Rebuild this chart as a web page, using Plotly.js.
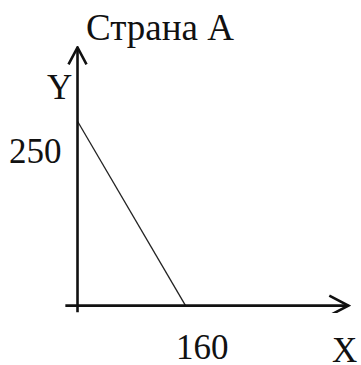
<!DOCTYPE html>
<html>
<head>
<meta charset="utf-8">
<script src="https://cdn.plot.ly/plotly-3.0.1.min.js"></script>
<style>html,body{margin:0;padding:0;background:#fff;}#chart{width:361px;height:365px;}</style>
</head>
<body>
<div id="chart"></div>
<script>
// Data
const chartTitle = "Страна А";
const xAxisName = "X";
const yAxisName = "Y";
const xValues = [0, 160];
const yValues = [250, 0];

const FONT = {family: "Liberation Serif, Times New Roman, serif", size: 35, color: "#111"};
const TITLE_FONT = {family: "Liberation Serif, Times New Roman, serif", size: 37, color: "#111"};
const xRange = [-20, 405];
const yRange = [-10, 352];

const trace = {
  x: xValues, y: yValues, type: "scatter", mode: "lines",
  line: {color: "#222", width: 1.3}, hoverinfo: "skip", showlegend: false
};

const axisStyle = {color: "#111", width: 2.6};
const shapes = [
  // x axis
  {type: "line", xref: "x", yref: "y", x0: -18, x1: 401, y0: 0, y1: 0, line: axisStyle},
  // y axis
  {type: "line", xref: "x", yref: "y", x0: 0, x1: 0, y0: -9, y1: 350, line: axisStyle},
  // x arrowhead
  {type: "path", xref: "x", yref: "y", xsizemode: "pixel", ysizemode: "pixel",
   xanchor: 401, yanchor: 0, path: "M-19,10 L0,0 L-19,-10", line: axisStyle},
  // y arrowhead
  {type: "path", xref: "x", yref: "y", xsizemode: "pixel", ysizemode: "pixel",
   xanchor: 0, yanchor: 350, path: "M-9,-17 L0,0 L9,-17", line: axisStyle}
];

const annotations = [
  {x: 0, y: yValues[0], xref: "x", yref: "y", text: String(yValues[0]), showarrow: false,
   xanchor: "center", yanchor: "middle", xshift: -42, yshift: -30, font: FONT},
  {x: xValues[1], y: 0, xref: "x", yref: "y", text: String(xValues[1]), showarrow: false,
   xanchor: "center", yanchor: "middle", xshift: 17, yshift: -42, font: FONT},
  {x: -0.014, y: 0.843, xref: "paper", yref: "paper", text: yAxisName, showarrow: false,
   xanchor: "center", yanchor: "middle", font: FONT},
  {x: 0.979, y: -0.14, xref: "paper", yref: "paper", text: xAxisName, showarrow: false,
   xanchor: "center", yanchor: "middle", font: FONT}
];

const layout = {
  width: 361, height: 365,
  margin: {l: 64, r: 10, t: 46, b: 52},
  paper_bgcolor: "#fff", plot_bgcolor: "#fff",
  title: {text: chartTitle, font: TITLE_FONT, xref: "container", yref: "container",
          x: 160/361, y: 1 - 27/365, xanchor: "center", yanchor: "middle"},
  xaxis: {range: xRange, visible: false, fixedrange: true},
  yaxis: {range: yRange, visible: false, fixedrange: true},
  shapes: shapes,
  annotations: annotations,
  showlegend: false
};

Plotly.newPlot("chart", [trace], layout, {staticPlot: true, displayModeBar: false});
</script>
</body>
</html>
